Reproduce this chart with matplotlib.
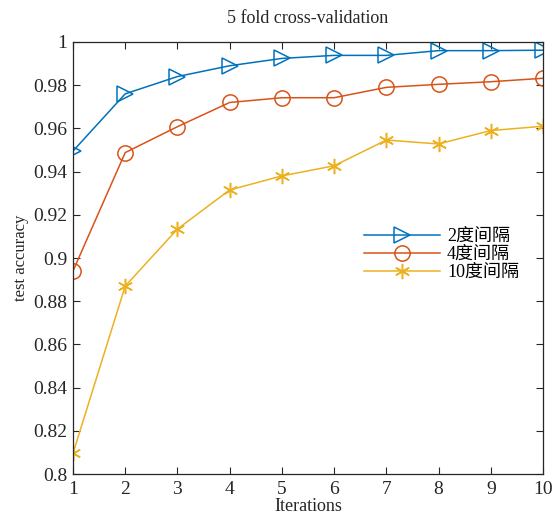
import matplotlib.pyplot as plt

# values
iterations = [1, 2, 3, 4, 5, 6, 7, 8, 9, 10]
acc_2deg = [0.9495, 0.976, 0.984, 0.989, 0.9924, 0.9938, 0.9938, 0.996, 0.996, 0.9962]
acc_4deg = [0.894, 0.9488, 0.9608, 0.972, 0.9742, 0.9742, 0.979, 0.9804, 0.9816, 0.9832]
acc_10deg = [0.8096, 0.887, 0.9134, 0.9315, 0.938, 0.9427, 0.9546, 0.9528, 0.959, 0.961]
labels = ['2度间隔', '4度间隔', '10度间隔']

plt.rcParams['font.family'] = ['Liberation Serif', 'Noto Sans CJK SC']
plt.rcParams['mathtext.fontset'] = 'stix'

fig = plt.figure(figsize=(5.58, 5.14), dpi=100)
ax = fig.add_axes([0.1308, 0.0778, 0.8423, 0.8405])

asterisk = (6, 2, 0)
ax.plot(iterations, acc_2deg, color='#0072BD', marker='>', markersize=11.5,
        markerfacecolor='none', markeredgewidth=1.1, linewidth=1.1, label=labels[0])
ax.plot(iterations, acc_4deg, color='#D95319', marker='o', markersize=11,
        markerfacecolor='none', markeredgewidth=1.1, linewidth=1.1, label=labels[1])
ax.plot(iterations, acc_10deg, color='#EDB120', marker=asterisk, markersize=11,
        markeredgewidth=1.1, linewidth=1.1, label=labels[2])

ax.set_xlim(1, 10)
ax.set_ylim(0.8, 1.0)
ax.set_xticks(iterations)
ax.set_yticks([0.8, 0.82, 0.84, 0.86, 0.88, 0.9, 0.92, 0.94, 0.96, 0.98, 1.0])
ax.set_yticklabels(['0.8', '0.82', '0.84', '0.86', '0.88', '0.9', '0.92', '0.94',
                    '0.96', '0.98', '1'])
ax.tick_params(direction='in', top=True, right=True, length=5, width=0.8,
               labelsize=14, colors='#262626')
ax.tick_params(axis='x', pad=5)
ax.tick_params(axis='y', pad=4)
for s in ax.spines.values():
    s.set_linewidth(0.9)
    s.set_color('#262626')

ax.set_xlabel('Iterations', fontsize=13, labelpad=0, color='#262626')
ax.set_ylabel('test accuracy', fontsize=12, labelpad=3, color='#262626')
ax.set_title('5 fold cross-validation', fontsize=13, pad=14, color='#262626')

ax.legend(loc='upper left', bbox_to_anchor=(0.6, 0.59), frameon=False, fontsize=13,
          handlelength=4.2, handletextpad=0.4, labelspacing=0.05, borderpad=0)

fig.savefig('out.png', dpi=100)
